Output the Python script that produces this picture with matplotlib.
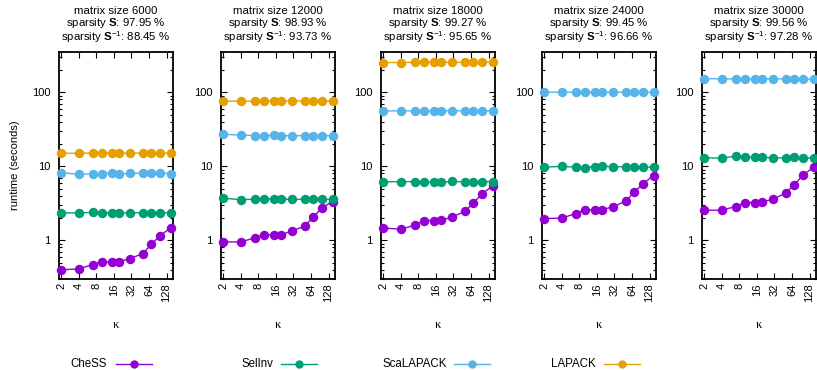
import matplotlib
matplotlib.use("Agg")
import matplotlib.pyplot as plt
from matplotlib.ticker import LogLocator, FixedLocator, NullFormatter, FixedFormatter
from matplotlib.lines import Line2D

plt.rcParams['font.family'] = ['Liberation Sans', 'DejaVu Sans']
plt.rcParams['mathtext.fontset'] = 'custom'
plt.rcParams['mathtext.rm'] = 'Liberation Sans'
plt.rcParams['mathtext.bf'] = 'Liberation Sans:bold'

kappa = [2, 4, 7, 10, 15, 20, 30, 50, 70, 100, 150]
xticks = [2, 4, 8, 16, 32, 64, 128]

sizes = [6000, 12000, 18000, 24000, 30000]
sparsity_S = ["97.95", "98.93", "99.27", "99.45", "99.56"]
sparsity_Sinv = ["88.45", "93.73", "95.65", "96.66", "97.28"]

chess = [
    [0.40, 0.41, 0.47, 0.51, 0.51, 0.515, 0.565, 0.66, 0.88, 1.16, 1.47],
    [0.95, 0.95, 1.08, 1.19, 1.19, 1.19, 1.34, 1.55, 2.05, 2.77, 3.34],
    [1.47, 1.41, 1.60, 1.85, 1.85, 1.87, 2.05, 2.45, 3.20, 4.24, 5.45],
    [1.97, 1.99, 2.30, 2.60, 2.58, 2.60, 2.83, 3.38, 4.47, 5.85, 7.50],
    [2.55, 2.55, 2.86, 3.24, 3.24, 3.30, 3.59, 4.33, 5.67, 7.60, 9.75],
]
selinv = [
    [2.34, 2.35, 2.38, 2.36, 2.37, 2.37, 2.34, 2.37, 2.36, 2.37, 2.36],
    [3.70, 3.55, 3.58, 3.60, 3.62, 3.60, 3.57, 3.58, 3.60, 3.56, 3.58],
    [6.17, 6.20, 6.22, 6.12, 6.15, 6.10, 6.25, 6.18, 6.15, 6.20, 6.22],
    [9.7, 10.0, 9.7, 9.6, 9.9, 10.1, 9.8, 9.9, 9.8, 9.8, 9.7],
    [13.0, 12.9, 13.7, 13.3, 13.2, 13.3, 12.9, 13.1, 13.2, 13.0, 12.9],
]
scalapack = [
    [8.2, 7.8, 7.9, 7.96, 8.2, 7.96, 8.0, 8.1, 8.0, 8.1, 7.96],
    [27.0, 26.5, 26.0, 26.0, 26.3, 26.0, 25.8, 26.0, 26.0, 26.0, 25.8],
    [55.9, 56.2, 56.0, 55.8, 56.0, 56.3, 56.5, 56.0, 56.0, 56.1, 55.8],
    [100.0, 100.5, 99.8, 100.0, 100.2, 100.0, 99.9, 100.3, 100.0, 99.8, 100.0],
    [153, 152, 151, 150, 151, 153, 151, 152, 152, 151, 151],
]
lapack = [
    [15.0, 15.0, 15.1, 15.0, 15.1, 15.0, 15.0, 15.1, 15.0, 15.0, 15.1],
    [75.5, 76.0, 75.8, 76.2, 76.0, 76.3, 76.5, 76.2, 76.0, 76.1, 76.4],
    [252, 252, 254, 255, 256, 254, 254, 253, 255, 255, 256],
    None,
    None,
]

series_names = ["CheSS", "SelInv", "ScaLAPACK", "LAPACK"]
colors = ["#9400D3", "#009E73", "#56B4E9", "#E69F00"]

W, H = 817, 370
fig = plt.figure(figsize=(W / 100, H / 100), dpi=100)

lefts = [59, 221, 381, 542, 702]
aw = 114
top_px, bot_px = 52, 279

for i in range(5):
    ax = fig.add_axes([lefts[i] / W, 1 - bot_px / H, aw / W, (bot_px - top_px) / H])
    data = [chess[i], selinv[i], scalapack[i], lapack[i]]
    for vals, c in zip(data, colors):
        if vals is None:
            continue
        ax.plot(kappa, vals, color=c, lw=1.0, marker='o', ms=6.8,
                markeredgewidth=0, clip_on=False, zorder=3)
    ax.set_xscale('log', base=2)
    ax.set_yscale('log')
    ax.set_xlim(1.85, 165)
    ax.set_ylim(0.3, 350)
    ax.xaxis.set_major_locator(FixedLocator(xticks))
    ax.xaxis.set_major_formatter(FixedFormatter([str(t) for t in xticks]))
    ax.xaxis.set_minor_locator(LogLocator(base=2, subs=[1.25, 1.5, 1.75]))
    ax.xaxis.set_minor_formatter(NullFormatter())
    ax.yaxis.set_major_locator(FixedLocator([1, 10, 100]))
    ax.yaxis.set_major_formatter(FixedFormatter(["1", "10", "100"]))
    ax.yaxis.set_minor_locator(LogLocator(base=10, subs=range(2, 10)))
    ax.yaxis.set_minor_formatter(NullFormatter())
    ax.tick_params(which='both', direction='in', top=True, right=True,
                   width=0.8, labelsize=8, colors='black')
    ax.tick_params(which='major', length=4.5)
    ax.tick_params(which='minor', length=2.2)
    ax.tick_params(axis='x', which='major', labelrotation=90, pad=3)
    ax.tick_params(axis='y', which='major', pad=6)
    for s in ax.spines.values():
        s.set_linewidth(1.3)
    ax.set_xlabel("κ", family=['Liberation Serif', 'DejaVu Serif'], fontsize=9, labelpad=12)
    if i == 0:
        ax.set_ylabel("runtime (seconds)", fontsize=8, labelpad=9)
    cx = (lefts[i] + aw / 2) / W
    fig.text(cx, 1 - 11.0 / H, f"matrix size {sizes[i]}", ha='center', va='center', fontsize=8.2)
    fig.text(cx, 1 - 23.3 / H, r"sparsity $\mathbf{S}$: " + f"{sparsity_S[i]} %",
             ha='center', va='center', fontsize=8.2)
    fig.text(cx, 1 - 37.4 / H, r"sparsity $\mathbf{S}^{-1}$: " + f"{sparsity_Sinv[i]} %",
             ha='center', va='center', fontsize=8.2)

# legend (gnuplot-style: text right-aligned before sample)
text_right = [107, 273, 447, 596]
line_start = [116, 281, 454, 604]
ly = 1 - 364 / H
for name, c, tr, ls in zip(series_names, colors, text_right, line_start):
    fig.text(tr / W, ly, name, ha='right', va='center', fontsize=8.3)
    fig.add_artist(Line2D([ls / W, (ls + 36) / W], [ly, ly], color=c, lw=1.0,
                          transform=fig.transFigure))
    fig.add_artist(Line2D([(ls + 18) / W], [ly], color=c, marker='o', ms=6,
                          markeredgewidth=0, transform=fig.transFigure))

fig.savefig("out.png", dpi=100)
